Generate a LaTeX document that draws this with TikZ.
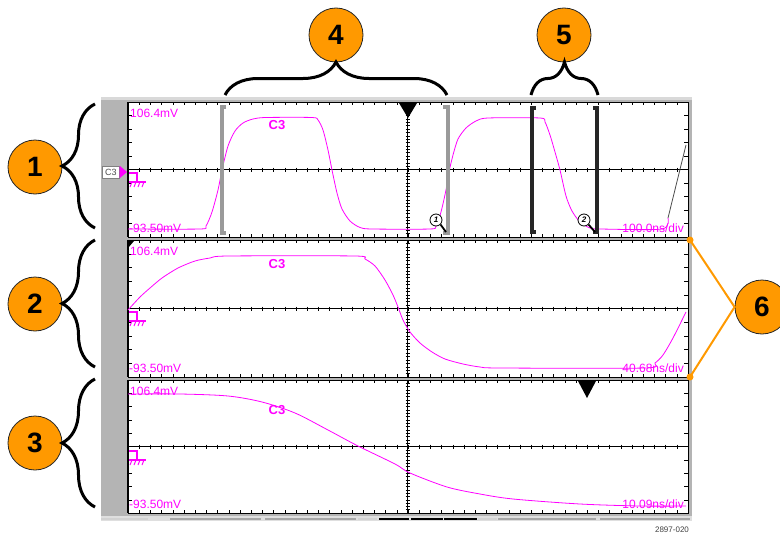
\documentclass[tikz,border=0pt]{standalone}
\usepackage{fontspec}
\setmainfont{Liberation Sans}
\usetikzlibrary{decorations.pathreplacing}
\definecolor{callout}{HTML}{FF9900}
\definecolor{trace}{HTML}{FF00FF}
\definecolor{bezel}{HTML}{B4B4B4}
\definecolor{cursorgray}{HTML}{9A9A9A}

\begin{document}
\begin{tikzpicture}[x=1pt, y=-1pt,
		num/.style={circle, draw=black!85, line width=0.8pt, fill=callout, minimum size=54pt, inner sep=0pt, font=\fontsize{28}{28}\selectfont\bfseries},
		curly/.style={decorate, decoration={brace, amplitude=33pt}, line width=3pt},
		wave/.style={trace, line width=0.8pt},
		lbl/.style={text=trace, inner sep=0pt, font=\fontsize{12}{12}\selectfont},
		tag/.style={text=trace, inner sep=0pt, font=\fontsize{13}{13}\selectfont\bfseries},
		cur/.style={circle, draw, line width=0.8pt, fill=white, inner sep=0pt, minimum size=12pt, font=\fontsize{8}{8}\selectfont\bfseries\itshape},
		dot/.style={circle, fill=callout, inner sep=0pt, minimum size=7pt}]
		\clip (0,0) rectangle (780,538);

		% scope bezel
		\fill[bezel] (101,97) rectangle (692,516);
		\fill[gray!30] (101,97) rectangle (692,100);
		\fill[gray!25] (101,516) rectangle (692,521);

		% the three graticules
		\foreach \t/\b in {102/237, 240/377, 380/513} {
			\pgfmathsetmacro{\pc}{(\t+\b)/2}
			\pgfmathsetmacro{\ph}{\b-\t}
			\draw[fill=white, line width=1pt] (128,\t) rectangle (688,\b);
			\draw[line width=2pt] (128,\t) -- (128,\b);
			\draw (128,\pc) -- (688,\pc);
			\draw (407.5,\t) -- (407.5,\b);
			\foreach \i in {1,...,49} {
				\draw (128+\i*11.2,\t) -- ++(0,3) (128+\i*11.2,\b) -- ++(0,-3) (128+\i*11.2,\pc-2) -- ++(0,4);
			}
			\foreach \j in {1,...,9} {
				\draw (128,\t+\j*\ph/10) -- ++(4,0) (688,\t+\j*\ph/10) -- ++(-4,0);
			}
			\foreach \j in {1,...,39} {
				\draw (405.5,\t+\j*\ph/40) -- ++(4,0);
			}
		}

		% ground marks
		\foreach \g in {171, 310, 449} {
			\draw[trace, line width=1.3pt] (129,\g+2) -- (137,\g+2) -- (137,\g+11) (129,\g+11) -- (146,\g+11);
			\foreach \k in {0,1,2,3}
				\draw[trace, line width=1pt] (132+4*\k,\g+11) -- ++(-2,5);
		}

		% readouts
		\foreach \t/\b/\rate/\cy in {102/237/100.0/125, 240/377/40.68/264, 380/513/10.09/410} {
			\node[lbl, anchor=west] (hi\t) at (130,\t+11) {106.4mV};
			\node[lbl, anchor=west] (lo\t) at (129,\b-9) {-93.50mV};
			\node[lbl, anchor=east] (rate\t) at (684,\b-9) {\rate ns/div};
			\node[tag] (cc\t) at (277,\cy) {C3};
		}

		% traces
		\draw[wave] plot[smooth, tension=0.45] coordinates {(128,229) (200,229) (206,226) (212,212) (218,190) (222,170) (228,146) (235,131) (243,123) (253,119) (266,117.5) (312,117.5) (318,120) (323,130) (328,150) (332,170) (337,193) (342,209) (350,221) (360,227.5) (372,229) (430,229) (436,226) (441,212) (446,190) (449,172) (453,155) (458,139) (466,128) (476,121) (488,118) (540,118) (545,122) (550,135) (555,152) (560,170) (566,196) (572,211) (580,222) (590,228) (600,229) (662,229) (668,218)};
		\draw[black!70, line width=0.8pt] (668,218) -- (686,145);
		\draw[wave] plot[smooth, tension=0.45] coordinates {(128,310) (140,297) (150,288) (162,278) (178,268) (195,261) (210,258) (228,256) (355,256) (365,259) (375,266) (385,280) (393,295) (398,307) (403,320) (410,332) (420,343) (432,352) (445,359) (463,364) (480,367) (500,368) (645,368) (655,363) (663,355) (673,338) (686,312)};
		\draw[wave] plot[smooth, tension=0.5] coordinates {(128,394) (180,394) (228,396) (262,402) (295,413) (328,430) (358,446) (395,464) (410,473) (447,487) (480,494) (513,499) (580,504) (640,506) (686,506)};

		% trigger marks
		\fill (399,103) -- (417,103) -- (408,118) -- cycle;
		\fill (578,381) -- (596,381) -- (587,398) -- cycle;
		\fill (128,241) -- (134,241) -- (128,248) -- cycle;

		% channel tab
		\node[draw=gray, fill=white, inner sep=0pt, minimum width=17pt, minimum height=12pt, text=black!70, font=\fontsize{9}{9}\selectfont] (tab) at (111,172) {C3};
		\fill[trace] (tab.north east) -- (127,172) -- (tab.south east) -- cycle;

		% cursors
		\draw[cursorgray, line width=3.5pt] (226,107) -| (222,233) -- (226,233);
		\draw[cursorgray, line width=3.5pt] (443,107) -| (448,233) -- (443,233);
		\draw[black!85, line width=3.5pt] (536,108) -| (532,232) -- (536,232);
		\draw[black!85, line width=3.5pt] (593,108) -| (597,232) -- (593,232);
		\node[cur] (k1) at (436,220) {1};
		\node[cur] (k2) at (584,220) {2};
		\coordinate (h1) at (446,232);
		\coordinate (h2) at (595,232);
		\draw[line width=1.8pt] (k1.south east) -- (h1);
		\draw[line width=1.8pt] (k2.south east) -- (h2);

		% scroll bar
		\foreach \a/\e/\col in {101/148/gray!35, 170/261/gray!70, 265/356/gray!70, 358/377/gray!35, 379/409/black, 411/443/black, 444/477/black, 478/497/gray!35, 498/596/gray!70, 600/690/gray!70}
			\draw[\col, line width=2pt] (\a,519) -- (\e,519);
		\node[font=\fontsize{8}{8}\selectfont, text=black!75, inner sep=0pt] (fig) at (672,530) {2897-020};

		% callouts
		\node[num] (n1) at (35,167) {1};
		\node[num] (n2) at (35,304) {2};
		\node[num] (n3) at (35,443) {3};
		\node[num] (n4) at (336,35) {4};
		\node[num] (n5) at (564,35) {5};
		\node[num] (n6) at (762,307) {6};

		\coordinate (b1a) at (95,228);
		\coordinate (b1b) at (95,104);
		\coordinate (b2a) at (95,367);
		\coordinate (b2b) at (95,240);
		\coordinate (b3a) at (95,507);
		\coordinate (b3b) at (95,379);
		\coordinate (b4a) at (225,95);
		\coordinate (b4b) at (447,95);
		\coordinate (b5a) at (531,95);
		\coordinate (b5b) at (598,95);
		\draw[curly] (b1a) -- (b1b);
		\draw[curly] (b2a) -- (b2b);
		\draw[curly] (b3a) -- (b3b);
		\draw[curly] (b4a) -- (b4b);
		\draw[curly] (b5a) -- (b5b);

		\node[dot] (d1) at (690,240) {};
		\node[dot] (d2) at (690,377) {};
		\draw[callout, line width=2pt] (d1.center) -- (n6.west) -- (d2.center);
	\end{tikzpicture}
\end{document}
